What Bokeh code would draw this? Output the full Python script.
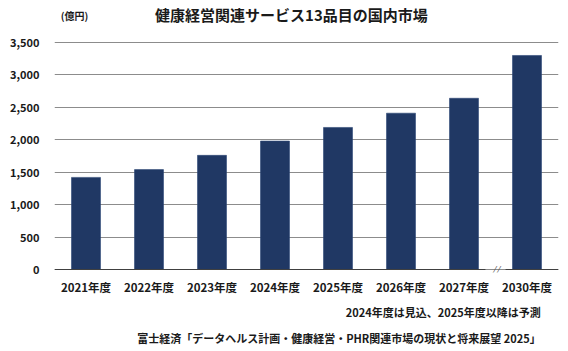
from bokeh.plotting import figure
from bokeh.layouts import column
from bokeh.models import FactorRange, Range1d, Label, NumeralTickFormatter, ColumnDataSource
from bokeh.core.properties import value
from bokeh.embed import file_html
from bokeh.resources import INLINE

categories = ["2021年度", "2022年度", "2023年度", "2024年度", "2025年度", "2026年度", "2027年度", "2030年度"]
values = [1420, 1540, 1760, 1980, 2190, 2410, 2640, 3300]
y_ticks = [0, 500, 1000, 1500, 2000, 2500, 3000, 3500]
title_text = "健康経営関連サービス13品目の国内市場"
unit_text = "(億円)"
note_text = "2024年度は見込、2025年度以降は予測"
source_text = "富士経済「データヘルス計画・健康経営・PHR関連市場の現状と将来展望 2025」"

FONT = "Noto Sans CJK JP"
W = 568
TOP_H, MAIN_H, BOT_H = 30, 268, 53

def text_fig(y0, h):
    f = figure(width=W, height=h, x_range=Range1d(0, W), y_range=Range1d(y0 + h, y0),
               output_backend="svg", toolbar_location=None,
               min_border=0, min_border_left=0, min_border_right=0, min_border_top=0, min_border_bottom=0)
    f.axis.visible = False
    f.grid.visible = False
    f.outline_line_color = None
    f.background_fill_color = "white"
    f.border_fill_color = "white"
    return f

def put(f, x, y, text, size, align):
    f.text(x=[x], y=[y], text=[text], text_font=value(FONT), text_font_size=size,
           text_font_style="bold", text_color="#1a1a1a", text_align=align, text_baseline="middle")

# --- top: title + unit
top = text_fig(0, TOP_H)
put(top, 267, 14, title_text, "15px", "center")
put(top, 7, 15, unit_text, "10px", "left")

# --- main chart (canvas y 30..298)
FT_PX, FB_PX = 40, 272            # frame top/bottom on the page
Y0_PX, Y3500_PX = 269, 42         # where 0 and 3500 sit on the page
k = (Y0_PX - Y3500_PX) / 3500.0
ymin = -(FB_PX - Y0_PX) / k
ymax = 3500 + (Y3500_PX - FT_PX) / k

p = figure(width=W, height=MAIN_H, x_range=FactorRange(factors=categories, range_padding=0),
           y_range=Range1d(ymin, ymax), output_backend="svg", toolbar_location=None,
           min_border_left=54, min_border_right=10,
           min_border_top=FT_PX - TOP_H, min_border_bottom=TOP_H + MAIN_H - FB_PX)
p.outline_line_color = None
p.background_fill_color = "white"
p.border_fill_color = "white"

src = ColumnDataSource(dict(cat=categories, val=values))
p.vbar(x="cat", top="val", width=0.46, source=src, fill_color="#203864",
       line_color="#2c4676", line_width=0.6)

for ax in (p.xaxis, p.yaxis):
    ax.axis_line_color = None
    ax.major_tick_line_color = None
    ax.minor_tick_line_color = None
    ax.major_tick_out = 0
    ax.major_tick_in = 0
    ax.minor_tick_out = 0
    ax.minor_tick_in = 0
    ax.major_label_text_font = FONT
    ax.major_label_text_font_style = "bold"
    ax.major_label_text_color = "#1a1a1a"

p.yaxis.ticker = y_ticks
p.yaxis.formatter = NumeralTickFormatter(format="0,0")
p.yaxis.major_label_text_font_size = "11px"
p.yaxis.major_label_standoff = 15

p.xaxis.major_label_text_font_size = "11.5px"
p.xaxis.major_label_standoff = 6

p.xgrid.grid_line_color = None
p.ygrid.grid_line_color = "#8c8c8c"
p.ygrid.grid_line_width = 1

# broken baseline with "//" mark between 2027 and 2030
n = len(categories)
brk = n - 1.0
p.segment(x0=[0, brk + 0.16], x1=[brk - 0.16, n], y0=[0, 0], y1=[0, 0],
          line_color="#404040", line_width=1.2)
p.add_layout(Label(x=brk, y=0, text="//", text_font=FONT, text_font_size="10px",
                   text_font_style="italic", text_color="#555555",
                   text_align="center", text_baseline="middle"))

# --- bottom: note + source (canvas y 298..351)
bot = text_fig(TOP_H + MAIN_H, BOT_H)
put(bot, 548, 311, note_text, "11px", "right")
put(bot, 548, 337, source_text, "11px", "right")

layout = column(top, p, bot, spacing=0)
open("out.html", "w").write(file_html(layout, INLINE))
